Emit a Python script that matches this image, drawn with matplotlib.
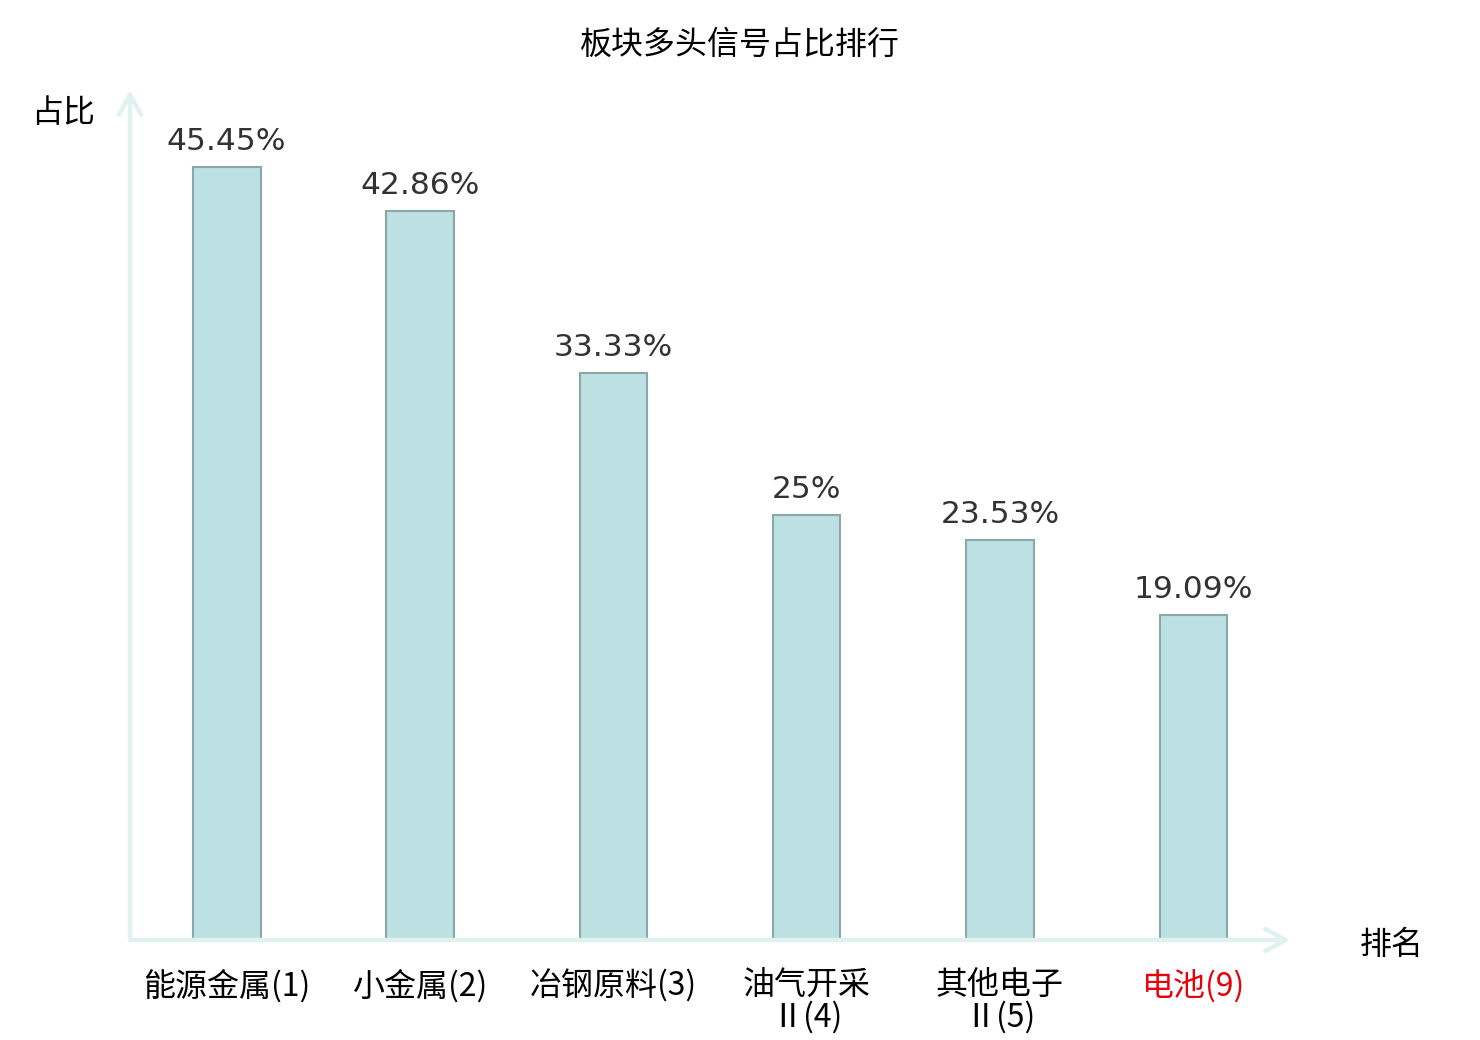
import matplotlib
matplotlib.use("Agg")
import matplotlib.pyplot as plt

plt.rcParams['font.family'] = ['Noto Sans CJK SC', 'DejaVu Sans']

TITLE = "板块多头信号占比排行"
SECTORS = ["能源金属(1)", "小金属(2)", "冶钢原料(3)", "油气开采\nⅡ(4)", "其他电子\nⅡ(5)", "电池(9)"]
SHARES = [45.45, 42.86, 33.33, 25.0, 23.53, 19.09]
SHARE_LABELS = ["45.45%", "42.86%", "33.33%", "25%", "23.53%", "19.09%"]
LABEL_COLORS = ["#000000", "#000000", "#000000", "#000000", "#000000", "#e8000b"]

BAR_FACE = "#bde0e3"
BAR_EDGE = "#8aa8a8"
AXIS_COLOR = "#dff2f0"

fig = plt.figure(figsize=(14.8, 10.4), dpi=100)
ax = fig.add_axes([130 / 1480, 100 / 1040, 1160 / 1480, 850 / 1040])

x = range(len(SECTORS))
ax.bar(x, SHARES, width=0.35, color=BAR_FACE, edgecolor=BAR_EDGE, linewidth=1.5, zorder=2)
for xi, v, lab in zip(x, SHARES, SHARE_LABELS):
    ax.annotate(lab, (xi, v), xytext=(0, 8), textcoords="offset points",
                ha="center", va="bottom", fontsize=22.5, color="#333333",
                family="DejaVu Sans")

ax.set_xlim(-0.5, len(SECTORS) - 0.5)
ax.set_ylim(0, 50)
for s in ax.spines.values():
    s.set_visible(False)
ax.set_yticks([])
ax.set_xticks(list(x))
ax.set_xticklabels(SECTORS, fontsize=23, linespacing=1.0)
ax.tick_params(axis="x", length=0, pad=21)
for t, c in zip(ax.get_xticklabels(), LABEL_COLORS):
    t.set_color(c)
    t.set_va("top")

# axis arrows
arrow = dict(arrowstyle="->,head_length=1.45,head_width=0.8", color=AXIS_COLOR, lw=3.2,
             shrinkA=0, shrinkB=0)
ax.annotate("", xy=(1.0, 0), xytext=(0, 0), xycoords="axes fraction",
            arrowprops=arrow, annotation_clip=False)
ax.annotate("", xy=(0, 1.0), xytext=(0, 0), xycoords="axes fraction",
            arrowprops=arrow, annotation_clip=False)

fig.text(63 / 1480, 1 - 113 / 1040, "占比", fontsize=23, ha="center", va="center")
fig.text(1392 / 1480, 1 - 945 / 1040, "排名", fontsize=23, ha="center", va="center")
fig.text(740 / 1480, 1 - 45 / 1040, TITLE, fontsize=23, ha="center", va="center")

fig.savefig("out.png", dpi=100)
